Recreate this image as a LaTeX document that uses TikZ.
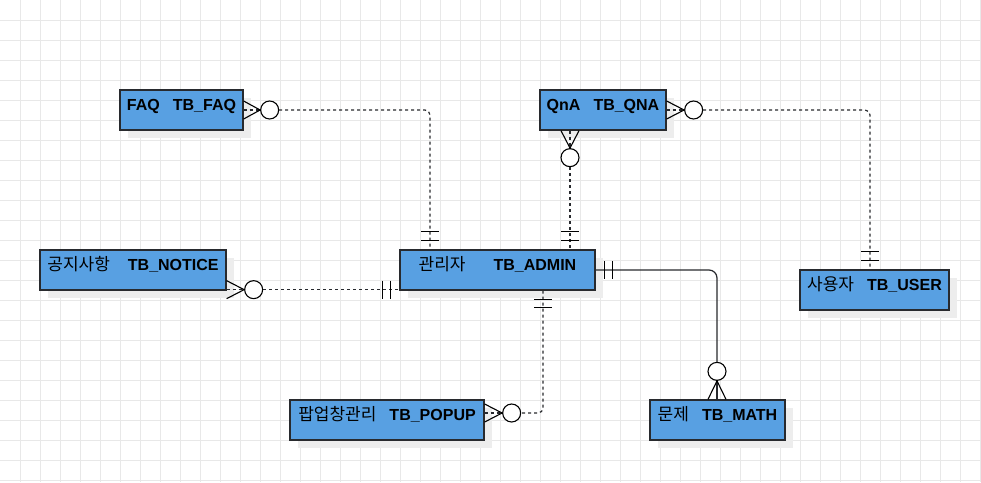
\documentclass[tikz,border=0pt]{standalone}
\usepackage{fontspec}
\setmainfont{Liberation Sans}
\newfontfamily\kor{Noto Sans CJK KR}
\usetikzlibrary{calc,shadows}
\definecolor{tblue}{RGB}{88,160,226}
\definecolor{edge}{RGB}{40,42,46}
\definecolor{gridgray}{RGB}{232,232,232}
\newcommand{\kr}[1]{{\kor\mdseries\fontsize{17}{19}\selectfont #1}}

\begin{document}
\begin{tikzpicture}[x=1pt,y=-1pt,
  ent/.style={draw=edge,fill=tblue,line width=1.3pt,inner sep=0pt,
    text height=20pt,text depth=20pt,font=\fontsize{16}{19}\selectfont\bfseries,
    general shadow={fill=black!7,shadow xshift=8pt,shadow yshift=-8pt}},
  rel/.style={edge,line width=1.2pt,dash pattern=on 3pt off 3pt},
  solidrel/.style={edge,line width=1.2pt},
  crow/.style={black,line width=1.1pt},
  bar/.style={black,line width=1.1pt},
  circ/.style={circle,draw=black,fill=white,line width=1.1pt,minimum size=18pt,inner sep=0pt}]
\useasboundingbox (0,0) rectangle (981,482);
\fill[white] (0,0) rectangle (981,482);
% grid
\foreach \gx in {20,40,...,980} \draw[gridgray,line width=0.8pt] (\gx,0) -- (\gx,482);
\foreach \gy in {20,40,...,480} \draw[gridgray,line width=0.8pt] (0,\gy) -- (981,\gy);

% tables
\node[ent,minimum width=123pt] (faq) at (181.5,110) {FAQ\hspace{13pt}TB\_FAQ};
\node[ent,minimum width=126pt] (qna) at (603,110) {QnA\hspace{13pt}TB\_QNA};
\node[ent,minimum width=186pt] (notice) at (133,270) {\kr{공지사항}\hspace{18pt}TB\_NOTICE};
\node[ent,minimum width=195pt] (admin) at (497.5,270) {\kr{관리자}\hspace{28pt}TB\_ADMIN};
\node[ent,minimum width=149pt] (user) at (874.5,290) {\kr{사용자}\hspace{13pt}TB\_USER};
\node[ent,minimum width=194pt] (popup) at (387,420) {\kr{팝업창관리}\hspace{13pt}TB\_POPUP};
\node[ent,minimum width=135pt] (math) at (717.5,420) {\kr{문제}\hspace{13pt}TB\_MATH};

% end points
\coordinate (a1) at ([xshift=-67.5pt]admin.north);
\coordinate (a2) at ([xshift=72.5pt]admin.north);
\coordinate (q1) at ([xshift=-33pt]qna.south);
\coordinate (u1) at ([xshift=-4.5pt]user.north);
\coordinate (n1) at ([yshift=1pt]notice.south east);
\coordinate (a4) at ([yshift=1pt]admin.south west);
\coordinate (a5) at ([xshift=45.5pt]admin.south);
\coordinate (p1) at ([yshift=7pt]popup.east);

% FAQ - admin
\node[circ] (c1) at ($(faq.east)+(26,0)$) {};
\draw[rel] (faq.east) -- (c1.west);
\draw[crow] ($(faq.east)+(0,-9)$) -- (c1.west) -- ($(faq.east)+(0,9)$);
\draw[rel,rounded corners=5pt] (c1.east) -| (a1);
\draw[bar] ($(a1)+(-9,-18)$) -- ++(18,0);
\draw[bar] ($(a1)+(-9,-9)$) -- ++(18,0);

% QnA - admin
\node[circ] (c2) at ($(q1)+(0,27)$) {};
\draw[rel] (q1) -- (c2.north);
\draw[crow] ($(q1)+(-9,0)$) -- (c2.north) -- ($(q1)+(9,0)$);
\draw[rel] (c2.south) -- (a2);
\draw[bar] ($(a2)+(-9,-18)$) -- ++(18,0);
\draw[bar] ($(a2)+(-9,-9)$) -- ++(18,0);

% QnA - user
\node[circ] (c3) at ($(qna.east)+(27,0)$) {};
\draw[rel] (qna.east) -- (c3.west);
\draw[crow] ($(qna.east)+(0,-9)$) -- (c3.west) -- ($(qna.east)+(0,9)$);
\draw[rel,rounded corners=5pt] (c3.east) -| (u1);
\draw[bar] ($(u1)+(-9,-18)$) -- ++(18,0);
\draw[bar] ($(u1)+(-9,-9)$) -- ++(18,0);

% notice - admin
\node[circ] (c4) at ($(n1)+(27,0)$) {};
\draw[rel] (n1) -- (c4.west);
\draw[crow] ($(n1)+(0,-9)$) -- (c4.west) -- ($(n1)+(0,9)$);
\draw[rel] (c4.east) -- (a4);
\draw[bar] ($(a4)+(-17,-9)$) -- ++(0,18);
\draw[bar] ($(a4)+(-9,-9)$) -- ++(0,18);

% admin - popup
\node[circ] (c5) at ($(p1)+(27,0)$) {};
\draw[rel] (p1) -- (c5.west);
\draw[crow] ($(p1)+(0,-9)$) -- (c5.west) -- ($(p1)+(0,9)$);
\draw[rel,rounded corners=5pt] (a5) |- (c5.east);
\draw[bar] ($(a5)+(-9,9)$) -- ++(18,0);
\draw[bar] ($(a5)+(-9,17)$) -- ++(18,0);

% admin - math
\node[circ] (c6) at ($(math.north)+(-0.5,-28)$) {};
\draw[solidrel] (c6.south) -- (c6.south |- math.north);
\draw[crow] ($(math.north)+(-9.5,0)$) -- (c6.south) -- ($(math.north)+(8.5,0)$);
\draw[solidrel,rounded corners=8pt] (admin.east) -| (c6.north);
\draw[bar] ($(admin.east)+(9,-9)$) -- ++(0,18);
\draw[bar] ($(admin.east)+(17,-9)$) -- ++(0,18);
\end{tikzpicture}
\end{document}
